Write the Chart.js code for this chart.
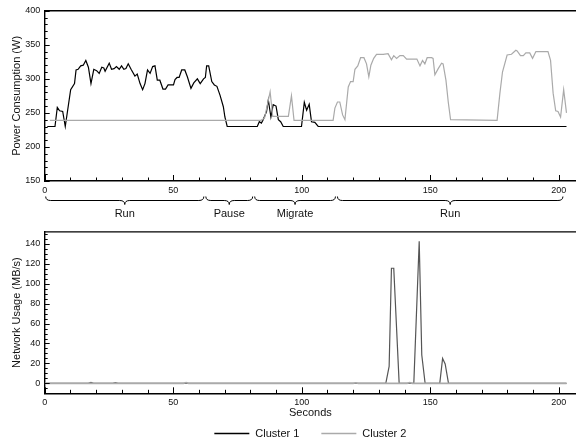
<!DOCTYPE html>
<html>
<head>
<meta charset="utf-8">
<script src="https://cdn.jsdelivr.net/npm/chart.js@4.4.1/dist/chart.umd.min.js"></script>
<style>
html, body { margin: 0; padding: 0; background: #fff; }
#wrap { position: relative; width: 576px; height: 447px; overflow: hidden; }
.box { position: absolute; left: 0; width: 576px; }
#top { top: 0; height: 222px; }
#bottom { top: 222px; height: 225px; }
</style>
</head>
<body>
<div id="wrap">
  <div class="box" id="top"><canvas id="powerChart"></canvas></div>
  <div class="box" id="bottom"><canvas id="netChart"></canvas></div>
</div>
<script>
// series names
const seriesNames = ['Cluster 1', 'Cluster 2'];

// power consumption, cluster 1
const c1Time = [1, 4, 4.9, 5.8, 7, 8, 10.1, 11.6, 12.2, 13, 14, 15, 16, 17, 18, 19.1, 20.2, 21.2, 22.2, 23, 23.5,
  25.1, 26, 27, 27.9, 29, 29.9, 30.8, 31.6, 32.5, 33.6, 35.1, 36, 37.1, 38.1, 39, 40, 41, 42, 42.9, 43.8, 44.8,
  46, 47, 48, 49.2, 50.1, 50.7, 51.5, 52.3, 53.3, 54.5, 55.5, 56.9, 58, 59.4, 60.5, 61.8, 62.5, 63, 63.8, 65,
  66, 67, 68.2, 69.5, 70.1, 71, 82.7, 83.5, 84.3, 85, 86.3, 87, 88, 88.9, 90, 90.9, 91.8, 92.8, 99.9, 101,
  101.9, 102.9, 103.8, 105.1, 106.4, 203];
const c1Power = [230, 230, 258, 253, 252, 230, 284, 293, 313, 314, 319, 320, 327, 317, 293, 314, 312, 308, 317, 316, 311,
  323, 314, 315, 318, 314, 319, 314, 315, 322, 314, 304, 307, 293, 284, 293, 313, 308, 318, 319, 298, 298,
  285, 285, 291, 291, 291, 299, 302, 302, 313, 313, 303, 286, 294, 300, 293, 300, 302, 319, 319, 296,
  291, 289, 276, 259, 244, 230, 230, 237, 235, 240, 252, 269, 244, 262, 260, 240, 237, 230, 230, 265.5,
  254, 262.6, 237, 236, 230, 230];

// power consumption, cluster 2
const c2Time = [2, 84.1, 85.5, 87.7, 88.7, 90.5, 94.8, 96, 97, 112.2, 112.9, 113.9, 114.8, 115.9, 116.8, 118.1, 119, 120,
  120.7, 121.8, 122.9, 124.2, 125.2, 126.1, 126.9, 128, 129.1, 131.7, 133.6, 134.9, 135.8, 136.9, 138.2, 139.5,
  140.8, 143.3, 144.8, 146, 147, 147.9, 148.8, 150.5, 151.1, 151.8, 153.1, 154.4, 155, 156.1, 157, 157.9, 176,
  177.1, 178.1, 179.9, 181.6, 183.3, 183.8, 185.1, 186.2, 187.2, 188.7, 189.8, 191.1, 195.8, 196.8, 197.8,
  198.8, 199.7, 200.7, 201.9, 203];
const c2Power = [239, 239, 242, 281, 245, 245, 245, 275, 239, 239, 257, 266, 266, 247, 240, 288, 296, 296,
  314, 319, 331, 331, 322, 303, 320, 330, 336, 336, 337, 328, 334, 330, 334, 334,
  329, 329, 329, 319, 327, 322, 331, 331, 330, 306, 315, 323, 322, 298, 266, 240, 239,
  279, 310, 335, 336, 342, 341, 334, 334, 338, 338, 330, 340, 340, 327, 279,
  253, 252, 244, 284, 250];

// network usage
const c1NetTime = [0, 17, 18, 19, 26.5, 27.5, 28.5, 132.7, 134, 134.9, 135.8, 137.9, 143.6, 145.7, 146.7, 148,
  153.7, 154.8, 155.8, 157.1, 203];
const c1Net = [0, 0, 1, 0, 0, 0.8, 0, 0, 17, 115.5, 115.5, 0, 0, 142.6, 28.4, 0, 0, 25, 19.5, 0, 0];
const c2NetTime = [0, 54, 55, 56, 120, 121, 122, 141, 142, 143, 203];
const c2Net = [0, 0, 0.8, 0, 0, 0.6, 0, 0, 0.8, 0, 0];

// phases under the power chart
const phaseNames = ['Run', 'Pause', 'Migrate', 'Run'];
const phaseStart = [0, 62.3, 81.3, 113.5];
const phaseEnd = [62.3, 81.3, 113.5, 202];

// tick labels
const timeTicks = [0, 50, 100, 150, 200];
const powerTicks = [150, 200, 250, 300, 350, 400];
const netTicks = [0, 20, 40, 60, 80, 100, 120, 140];

const FONT = '"Liberation Sans", Arial, Helvetica, sans-serif';
const colors = ['#000', '#aaa'];
const spikeColor = '#555';

Chart.defaults.font.family = FONT;
Chart.defaults.color = '#111';

const toPoints = (xs, ys) => xs.map((x, i) => ({ x: x, y: ys[i] }));
const setTicks = list => scale => { scale.ticks = list.map(v => ({ value: v })); };

// inward tick marks and the top frame line
const frameTicks = {
  id: 'frameTicks',
  afterDraw(chart, args, opts) {
    const { ctx, chartArea: a, scales: { x, y } } = chart;
    ctx.save();
    ctx.strokeStyle = '#000';
    ctx.lineWidth = 1;
    ctx.beginPath();
    for (let v = 0; v <= x.max; v += 10) {
      const px = Math.round(x.getPixelForValue(v)) + 0.5;
      const len = v % 50 === 0 ? 6 : 3.5;
      ctx.moveTo(px, a.bottom);
      ctx.lineTo(px, a.bottom - len);
    }
    for (let v = opts.yFrom; v <= y.max; v += opts.yMinor) {
      const py = Math.round(y.getPixelForValue(v)) + 0.5;
      const len = v % opts.yMajor === 0 ? 5 : 3;
      ctx.moveTo(a.left, py);
      ctx.lineTo(a.left + len, py);
    }
    ctx.stroke();
    ctx.lineWidth = 1.4;
    ctx.beginPath();
    ctx.moveTo(a.left, a.top);
    ctx.lineTo(a.right, a.top);
    ctx.stroke();
    ctx.restore();
  }
};

// curly braces with phase labels below the power chart
const phaseBraces = {
  id: 'phaseBraces',
  afterDraw(chart) {
    const { ctx, scales: { x } } = chart;
    const y0 = 196.5, y1 = 200.5, y2 = 204.5, r = 5;
    ctx.save();
    ctx.strokeStyle = '#000';
    ctx.lineWidth = 1;
    ctx.fillStyle = '#111';
    ctx.font = '11px ' + FONT;
    ctx.textAlign = 'center';
    ctx.textBaseline = 'middle';
    phaseNames.forEach((name, i) => {
      const x1 = x.getPixelForValue(phaseStart[i]) + 1;
      const x2 = x.getPixelForValue(phaseEnd[i]) - 1;
      const xm = (x1 + x2) / 2;
      ctx.beginPath();
      ctx.moveTo(x1, y0);
      ctx.quadraticCurveTo(x1, y1, x1 + r, y1);
      ctx.lineTo(xm - r, y1);
      ctx.quadraticCurveTo(xm, y1, xm, y2);
      ctx.quadraticCurveTo(xm, y1, xm + r, y1);
      ctx.lineTo(x2 - r, y1);
      ctx.quadraticCurveTo(x2, y1, x2, y0);
      ctx.stroke();
      ctx.fillText(name, xm, 213.5);
    });
    ctx.restore();
  }
};

// legend centred under the plot area
const lineLegend = {
  id: 'lineLegend',
  afterDraw(chart) {
    const { ctx, chartArea: a } = chart;
    const cy = 211.5, sample = 35, gap = 6, between = 22;
    ctx.save();
    ctx.font = '11px ' + FONT;
    ctx.textBaseline = 'middle';
    const widths = seriesNames.map(n => ctx.measureText(n).width);
    let total = widths.reduce((s, w) => s + sample + gap + w, 0) + between * (seriesNames.length - 1);
    let x = (a.left + a.right) / 2 - total / 2;
    seriesNames.forEach((name, i) => {
      ctx.strokeStyle = colors[i];
      ctx.lineWidth = 1.3;
      ctx.beginPath();
      ctx.moveTo(x, cy);
      ctx.lineTo(x + sample, cy);
      ctx.stroke();
      ctx.fillStyle = '#111';
      ctx.fillText(name, x + sample + gap, cy);
      x += sample + gap + widths[i] + between;
    });
    ctx.restore();
  }
};

function axisX(height, title) {
  return {
    type: 'linear',
    min: 0,
    max: 206.7,
    afterBuildTicks: setTicks(timeTicks),
    afterFit: s => { s.height = height; },
    grid: { display: false, drawTicks: false },
    border: { display: true, color: '#000', width: 1.4 },
    ticks: { padding: 4, font: { size: 9 }, color: '#111' },
    title: title ? { display: true, text: title, font: { size: 11 }, color: '#111', padding: { top: 0, bottom: 27.5 } } : { display: false }
  };
}

function axisY(min, max, ticks, title) {
  return {
    min: min,
    max: max,
    afterBuildTicks: setTicks(ticks),
    afterFit: s => { s.width = 44.7; },
    grid: { display: false, drawTicks: false },
    border: { display: true, color: '#000', width: 1.4 },
    ticks: { padding: 4.5, font: { size: 9 }, color: '#111' },
    title: { display: true, text: title, font: { size: 11 }, color: '#111', padding: { top: 10.5, bottom: 0 } }
  };
}

const baseOptions = {
  responsive: true,
  maintainAspectRatio: false,
  animation: false,
  parsing: true,
  elements: { point: { radius: 0 }, line: { tension: 0, borderWidth: 1.2 } }
};

new Chart(document.getElementById('powerChart'), {
  type: 'line',
  data: {
    datasets: [
      { label: seriesNames[1], data: toPoints(c2Time, c2Power), borderColor: colors[1] },
      { label: seriesNames[0], data: toPoints(c1Time, c1Power), borderColor: colors[0] }
    ]
  },
  options: Object.assign({}, baseOptions, {
    layout: { padding: { top: 10.7, left: 0, right: 0, bottom: 0 } },
    plugins: {
      legend: { display: false },
      tooltip: { enabled: false },
      frameTicks: { yFrom: 150, yMinor: 10, yMajor: 50 }
    },
    scales: {
      x: axisX(41, null),
      y: axisY(150, 400, powerTicks, 'Power Consumption (W)')
    }
  }),
  plugins: [frameTicks, phaseBraces]
});

new Chart(document.getElementById('netChart'), {
  type: 'line',
  data: {
    datasets: [
      { label: seriesNames[1], data: toPoints(c2NetTime, c2Net), borderColor: colors[1], borderWidth: 1.6 },
      { label: seriesNames[0], data: toPoints(c1NetTime, c1Net), borderColor: spikeColor }
    ]
  },
  options: Object.assign({}, baseOptions, {
    layout: { padding: { top: 2, left: 0, right: 0, bottom: 0 } },
    plugins: {
      legend: { display: false },
      tooltip: { enabled: false },
      frameTicks: { yFrom: -10, yMinor: 5, yMajor: 20 }
    },
    scales: {
      x: axisX(53.7, 'Seconds'),
      y: axisY(-10, 152, netTicks, 'Network Usage (MB/s)')
    }
  }),
  plugins: [frameTicks, lineLegend]
});
</script>
</body>
</html>
